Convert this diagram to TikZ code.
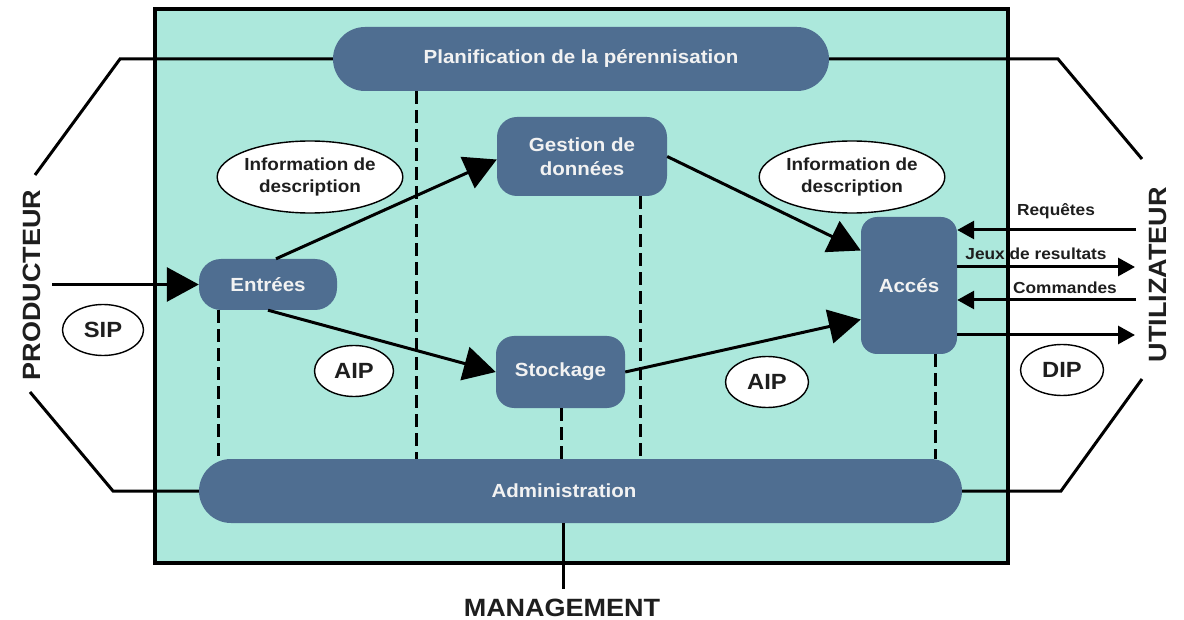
\documentclass[tikz,border=0pt]{standalone}
\usepackage{fontspec}
\setmainfont[FakeStretch=1.08]{Liberation Sans}
\usetikzlibrary{shapes.misc,shapes.geometric,arrows.meta}
\definecolor{tealbg}{HTML}{ACE8DC}
\definecolor{boxc}{HTML}{4F6E91}
\definecolor{boxt}{HTML}{F2F2F2}
\definecolor{labc}{HTML}{1E1E1E}
\begin{document}
\begin{tikzpicture}[x=1pt,y=-1pt,
  box/.style={fill=boxc, text=boxt, font=\fontsize{19}{24}\selectfont\bfseries, align=center, inner sep=0pt},
  pill/.style={box, rounded rectangle},
  ell/.style={ellipse, draw=black, line width=1.4pt, fill=white, inner sep=0pt, align=center, text=labc},
  infotext/.style={font=\fontsize{17.5}{22}\selectfont\bfseries},
  pkg/.style={font=\fontsize{22}{26}\selectfont\bfseries},
  biglab/.style={font=\fontsize{25}{28}\selectfont\bfseries, text=labc, inner sep=0pt},
  smalllab/.style={font=\fontsize{16}{19}\selectfont\bfseries, text=labc, inner sep=0pt},
  bigarrow/.style={line width=3pt, -{Triangle[length=32pt,width=34pt]}},
  smallarrow/.style={line width=3pt, -{Triangle[length=17pt,width=18pt]}},
  dashline/.style={line width=3pt, dash pattern=on 13pt off 6pt},
  outline/.style={line width=3pt, line join=miter},
]
\useasboundingbox (0,0) rectangle (1184,620);
\fill[white] (0,0) rectangle (1184,620);

% frame
\node[draw=black, line width=3.5pt, fill=tealbg, minimum width=853, minimum height=554, inner sep=0pt] (frame) at (581.5,286) {};

% boxes
\node[pill, minimum width=496, minimum height=64] (planif) at (581,59) {Planification de la pérennisation};
\node[pill, minimum width=763, minimum height=64] (admin) at (580.5,491) {};
\node[font=\fontsize{19}{24}\selectfont\bfseries, text=boxt, inner sep=0pt] (admintext) at (564,491) {Administration};
\node[box, rounded corners=20pt, minimum width=170, minimum height=79] (gestion) at (582,156.5) {Gestion de\\données};
\node[box, rounded corners=22pt, minimum width=138, minimum height=51] (entrees) at (268,284.5) {Entrées};
\node[box, rounded corners=16pt, minimum width=96, minimum height=137] (acces) at (909,285.5) {Accés};
\node[box, rounded corners=18pt, minimum width=129, minimum height=72] (stockage) at (560.5,372) {Stockage};

% outer lines
\coordinate (pl1) at (120,59);
\coordinate (pl2) at (35,175);
\coordinate (pr1) at (1058,59);
\coordinate (pr2) at (1142,159);
\coordinate (al1) at (113,491);
\coordinate (al2) at (30,392);
\coordinate (ar1) at (1061,491);
\coordinate (ar2) at (1142,379);
\draw[outline] (planif.west) -- (pl1) -- (pl2);
\draw[outline] (planif.east) -- (pr1) -- (pr2);
\draw[outline] (admin.west) -- (al1) -- (al2);
\draw[outline] (admin.east) -- (ar1) -- (ar2);
\coordinate (mg) at (563,589);
\draw[line width=3pt] (admin.south -| mg) -- (mg);

% dashed lines
\coordinate (d1) at (218,0);
\coordinate (d2) at (416,0);
\coordinate (d3) at (561,0);
\coordinate (d4) at (640,0);
\coordinate (d5) at (935,0);
\draw[dashline] (d1 |- entrees.south) -- (d1 |- admin.north);
\draw[dashline] (d2 |- planif.south) -- (d2 |- admin.north);
\draw[dashline] (d3 |- stockage.south) -- (d3 |- admin.north);
\draw[dashline] (d4 |- gestion.south) -- (d4 |- admin.north);
\draw[dashline] (d5 |- acces.south) -- (d5 |- admin.north);

% ellipses
\node[ell, infotext, minimum width=169, minimum height=72] (info1) at (310,177) {Information de\\description};
\node[ell, infotext, minimum width=169, minimum height=72] (info2) at (852,177) {Information de\\description};
\node[ell, pkg, minimum width=81, minimum height=51] (sip) at (103,330) {SIP};
\node[ell, pkg, minimum width=79, minimum height=51] (aip1) at (354,371) {AIP};
\node[ell, pkg, minimum width=83, minimum height=51] (aip2) at (767,382) {AIP};
\node[ell, pkg, minimum width=83, minimum height=51] (dip) at (1062,370) {DIP};

% main arrows
\coordinate (sipstart) at (52,284.5);
\draw[bigarrow] (sipstart) -- (entrees.west);
\draw[bigarrow] ([xshift=8pt]entrees.north) -- ([yshift=-3pt]gestion.west);
\draw[bigarrow] (entrees.south) -- (stockage.west);
\draw[bigarrow] (gestion.east) -- ([yshift=35pt]acces.west);
\draw[bigarrow] (stockage.east) -- ([yshift=-34pt]acces.west);

% user side arrows
\coordinate (u1) at (1136,230);
\coordinate (u2) at (1135,267);
\coordinate (u3) at (1136,300);
\coordinate (u4) at (1135,335);
\draw[smallarrow] (u1) -- (acces.east |- u1);
\draw[smallarrow] (acces.east |- u2) -- (u2);
\draw[smallarrow] (u3) -- (acces.east |- u3);
\draw[smallarrow] (acces.east |- u4) -- (u4);
\node[smalllab] (lreq) at (1056,211) {Requêtes};
\node[smalllab] (ljeux) at (1036,254) {Jeux de resultats};
\node[smalllab] (lcom) at (1065,288) {Commandes};

% big labels
\node[biglab, rotate=90] (prod) at (32,285) {PRODUCTEUR};
\node[biglab, rotate=90] (util) at (1158,275) {UTILIZATEUR};
\node[biglab] (mgmt) at (562,608) {MANAGEMENT};
\end{tikzpicture}
\end{document}
